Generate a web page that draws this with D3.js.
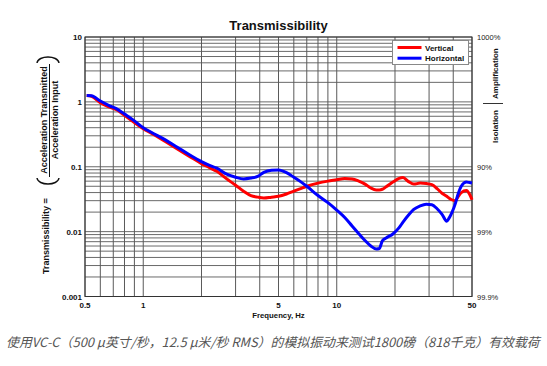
<!DOCTYPE html>
<html><head><meta charset="utf-8">
<script src="https://cdn.jsdelivr.net/npm/d3@7"></script>
<style>body{margin:0;background:#fff}svg{display:block}</style>
</head><body>
<script>
const freq = [0.51,0.54,0.6,0.67,0.74,0.8,0.9,1.0,1.1,1.3,1.5,1.75,2.0,2.2,2.4,2.7,3.0,3.3,3.6,3.9,4.2,4.6,5.0,5.5,6.0,6.5,7.0,8.0,9.0,10,11,12,13,14,15,16,16.6,17.2,18,19.5,21,22,23.5,25,27,29,31,33,35,37,38,39.3,41,42.5,44,46.8,48.5,50];
const vertical = [1.25,1.22,0.97,0.83,0.74,0.62,0.48,0.385,0.33,0.245,0.188,0.142,0.112,0.097,0.085,0.065,0.052,0.042,0.036,0.034,0.033,0.034,0.035,0.038,0.042,0.046,0.050,0.056,0.060,0.063,0.066,0.065,0.060,0.054,0.047,0.044,0.044,0.045,0.049,0.058,0.066,0.068,0.059,0.054,0.056,0.055,0.053,0.046,0.039,0.035,0.033,0.031,0.030,0.035,0.040,0.043,0.038,0.031];
const horizontal = [1.25,1.24,1.03,0.87,0.76,0.65,0.51,0.40,0.34,0.26,0.20,0.15,0.12,0.105,0.095,0.077,0.069,0.065,0.067,0.071,0.082,0.088,0.089,0.081,0.069,0.059,0.050,0.036,0.028,0.0215,0.0165,0.0122,0.0093,0.0073,0.0060,0.0054,0.0055,0.0072,0.0080,0.0092,0.0115,0.014,0.018,0.022,0.025,0.0265,0.026,0.0225,0.0185,0.0145,0.016,0.0194,0.027,0.039,0.050,0.058,0.057,0.056];
const yTickValues = [0.001,0.01,0.1,1,10];
const yTickLabels = ["0.001","0.01","0.1","1","10"];
const xTickValues = [0.5,1,5,10,50];
const xTickLabels = ["0.5","1","5","10","50"];
const pctValues = [10,0.1,0.01,0.001];
const pctLabels = ["1000%","90%","99%","99.9%"];
const seriesNames = ["Vertical","Horizontal"];
const seriesColors = ["#ff0000","#0000ff"];

const W=547,H=366;
const svg=d3.select("body").append("svg").attr("width",W).attr("height",H);
svg.append("rect").attr("width",W).attr("height",H).attr("fill","#fff");
const L=85,R=472,T=37,B=296.5;
const x=d3.scaleLog().domain([0.5,50]).range([L,R]);
const y=d3.scaleLog().domain([0.001,10]).range([B,T]);
const F="'Liberation Sans', Arial, sans-serif";

const g=svg.append("g");
g.selectAll(".hg").data(y.ticks()).join("line")
 .attr("x1",L).attr("x2",R).attr("y1",d=>y(d)).attr("y2",d=>y(d))
 .attr("stroke","#6a6a6a").attr("stroke-width",1);
g.selectAll(".vg").data(x.ticks()).join("line")
 .attr("y1",T).attr("y2",B).attr("x1",d=>x(d)).attr("x2",d=>x(d))
 .attr("stroke","#5a5a5a").attr("stroke-width",1);
g.append("rect").attr("x",L).attr("y",T).attr("width",R-L).attr("height",B-T)
 .attr("fill","none").attr("stroke","#333").attr("stroke-width",1);

g.selectAll(".yl").data(yTickValues).join("text")
 .attr("x",L-3).attr("y",d=>y(d)+3).attr("text-anchor","end")
 .attr("font-family",F).attr("font-weight","bold").attr("font-size",8).attr("fill","#111")
 .text((d,i)=>yTickLabels[i]);
g.selectAll(".xl").data(xTickValues).join("text")
 .attr("x",d=>x(d)).attr("y",B+11).attr("text-anchor","middle")
 .attr("font-family",F).attr("font-weight","bold").attr("font-size",8).attr("fill","#111")
 .text((d,i)=>xTickLabels[i]);
g.selectAll(".pl").data(pctValues).join("text")
 .attr("x",R+5).attr("y",d=>y(d)+3)
 .attr("font-family",F).attr("font-size",7.5).attr("fill","#222")
 .text((d,i)=>pctLabels[i]);

const line=d3.line().x(d=>x(d[0])).y(d=>y(d[1])).curve(d3.curveMonotoneX);
[vertical,horizontal].forEach((vals,i)=>{
  g.append("path").datum(freq.map((f,j)=>[f,vals[j]]))
   .attr("d",line).attr("fill","none").attr("stroke",seriesColors[i])
   .attr("stroke-width",3).attr("stroke-linejoin","round");
});

svg.append("text").attr("x",(L+R)/2).attr("y",30).attr("text-anchor","middle")
 .attr("font-family",F).attr("font-weight","bold").attr("font-size",13).attr("fill","#111")
 .text("Transmissibility");
svg.append("text").attr("x",(L+R)/2).attr("y",318).attr("text-anchor","middle")
 .attr("font-family",F).attr("font-weight","bold").attr("font-size",7.75).attr("fill","#111")
 .text("Frequency, Hz");

function vtext(tx,ty,str,anchor,size,weight){
  svg.append("text").attr("transform",`translate(${tx},${ty}) rotate(-90)`)
   .attr("text-anchor",anchor).attr("font-family",F).attr("font-weight",weight||"bold")
   .attr("font-size",size).attr("fill","#111").text(str);
}
vtext(48.5,274,"Transmissibility =","start",9);
vtext(47,120,"Acceleration Transmitted","middle",9);
vtext(57.5,120,"Acceleration Input","middle",9);
svg.append("line").attr("x1",49.5).attr("x2",49.5).attr("y1",64).attr("y2",177).attr("stroke","#111").attr("stroke-width",1);
svg.append("path").attr("d","M37,178 C38,186 58,186 59,178").attr("fill","none").attr("stroke","#111").attr("stroke-width",1.4);
svg.append("path").attr("d","M37,63 C38,55 58,55 59,63").attr("fill","none").attr("stroke","#111").attr("stroke-width",1.4);

vtext(498,99,"Amplification","start",8);
vtext(498,143,"Isolation","start",8);
svg.append("line").attr("x1",483).attr("x2",503).attr("y1",103.5).attr("y2",103.5).attr("stroke","#333").attr("stroke-width",1);

const lg=svg.append("g");
lg.append("rect").attr("x",392.5).attr("y",40.5).attr("width",76).attr("height",24)
 .attr("fill","#fff").attr("stroke","#888").attr("stroke-width",1);
seriesNames.forEach((n,i)=>{
  const yy=47.5+i*10.7;
  lg.append("line").attr("x1",397.5).attr("x2",421.5).attr("y1",yy).attr("y2",yy)
   .attr("stroke",seriesColors[i]).attr("stroke-width",3);
  lg.append("text").attr("x",425).attr("y",yy+3).attr("font-family",F).attr("font-weight","bold")
   .attr("font-size",8).attr("fill","#111").text(n);
});

svg.append("text").attr("x",6).attr("y",347)
 .attr("font-family","'Noto Sans CJK SC', sans-serif").attr("font-style","italic")
 .attr("font-size",12.9).attr("fill","#555")
 .text("使用VC-C（500 μ英寸/秒，12.5 μ米/秒 RMS）的模拟振动来测试1800磅（818千克）有效载荷");
</script>
</body></html>
